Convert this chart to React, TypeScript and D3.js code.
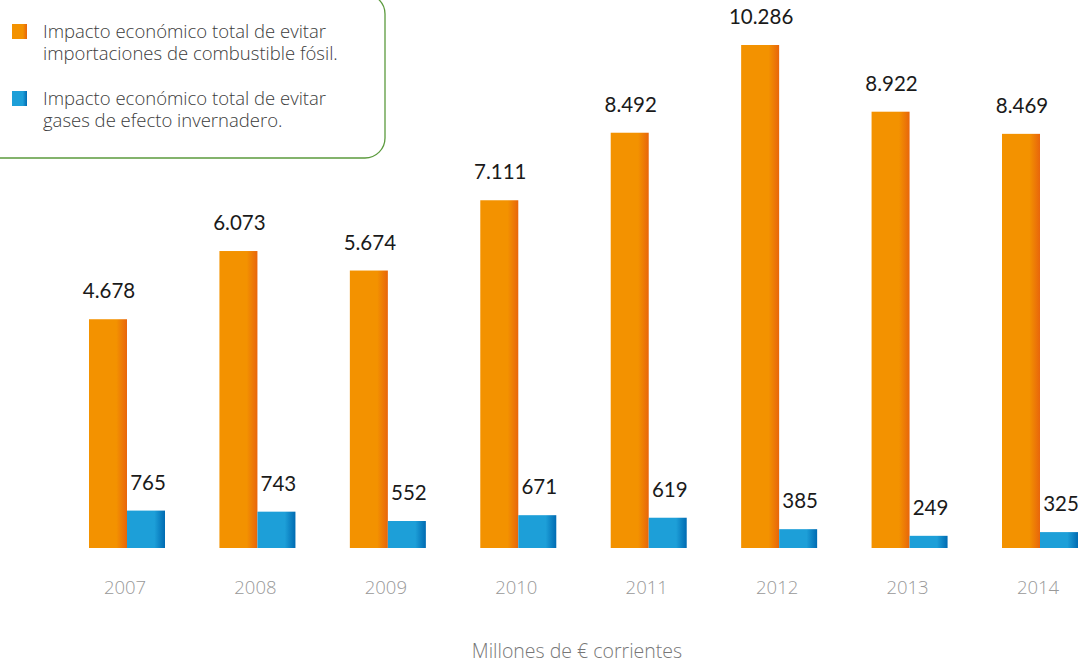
import React from "react";
import * as d3 from "d3";

const years = ["2007", "2008", "2009", "2010", "2011", "2012", "2013", "2014"];
const fossilValues = [4678, 6073, 5674, 7111, 8492, 10286, 8922, 8469];
const ghgValues = [765, 743, 552, 671, 619, 385, 249, 325];
const fossilLabels = ["4.678", "6.073", "5.674", "7.111", "8.492", "10.286", "8.922", "8.469"];
const ghgLabels = ["765", "743", "552", "671", "619", "385", "249", "325"];
const legendItems = [
  ["Impacto económico total de evitar", "importaciones de combustible fósil."],
  ["Impacto económico total de evitar", "gases de efecto invernadero."],
];
const axisTitle = "Millones de € corrientes";

const W = 1082;
const H = 663;
const baseY = 548;
const barW = 38;

export default function App() {
  React.useEffect(() => {
    document.body.style.margin = "0";
  }, []);

  const x = d3.scalePoint<string>().domain(years).range([127, 1040]);
  const y = d3.scaleLinear().domain([0, 10286]).range([baseY, 45]);

  const valueFont = "Lato, 'DejaVu Sans', sans-serif";
  const lightFont = "'Open Sans', sans-serif";

  return (
    <svg width={W} height={H} style={{ display: "block" }}>
      <defs>
        <linearGradient id="gOrange" x1="0" x2="1" y1="0" y2="0">
          <stop offset="0" stopColor="#F39200" />
          <stop offset="0.72" stopColor="#F39200" />
          <stop offset="1" stopColor="#E8650B" />
        </linearGradient>
        <linearGradient id="gBlue" x1="0" x2="1" y1="0" y2="0">
          <stop offset="0" stopColor="#1D9FD8" />
          <stop offset="0.72" stopColor="#1D9FD8" />
          <stop offset="1" stopColor="#006BB2" />
        </linearGradient>
      </defs>

      {/* Legend box */}
      <rect x={-20} y={-6} width={405} height={164} rx={20} ry={20}
        fill="#fff" stroke="#5B9A3D" strokeWidth={1.3} />
      {legendItems.map((lines, i) => (
        <g key={i} transform={`translate(0, ${i * 67})`}>
          <rect x={12} y={24} width={15} height={15} fill={i === 0 ? "url(#gOrange)" : "url(#gBlue)"} />
          {lines.map((t, j) => (
            <text key={j} x={43} y={38 + j * 22} fontFamily={lightFont} fontWeight={300}
              fontSize={18.5} fill="#3c3c3c">{t}</text>
          ))}
        </g>
      ))}

      {/* Bars */}
      {years.map((yr, i) => {
        const cx = x(yr)!;
        const fy = y(fossilValues[i]);
        const gy = y(ghgValues[i]);
        return (
          <g key={yr}>
            <rect x={cx - barW} y={fy} width={barW} height={baseY - fy} fill="url(#gOrange)" />
            <rect x={cx} y={gy} width={barW} height={baseY - gy} fill="url(#gBlue)" />
            <text x={cx - barW / 2 + 1} y={fy - 21} textAnchor="middle" fontFamily={valueFont}
              fontSize={20.5} fill="#1a1a1a">{fossilLabels[i]}</text>
            <text x={cx + barW / 2 + 2} y={gy - 21} textAnchor="middle" fontFamily={valueFont}
              fontSize={20.5} fill="#1a1a1a">{ghgLabels[i]}</text>
            <text x={cx - 2} y={594} textAnchor="middle" fontFamily={lightFont} fontWeight={300}
              fontSize={18.5} fill="#999">{yr}</text>
          </g>
        );
      })}

      <text x={577} y={658} textAnchor="middle" fontFamily={lightFont} fontWeight={300}
        fontSize={19.5} fill="#777">{axisTitle}</text>
    </svg>
  );
}
